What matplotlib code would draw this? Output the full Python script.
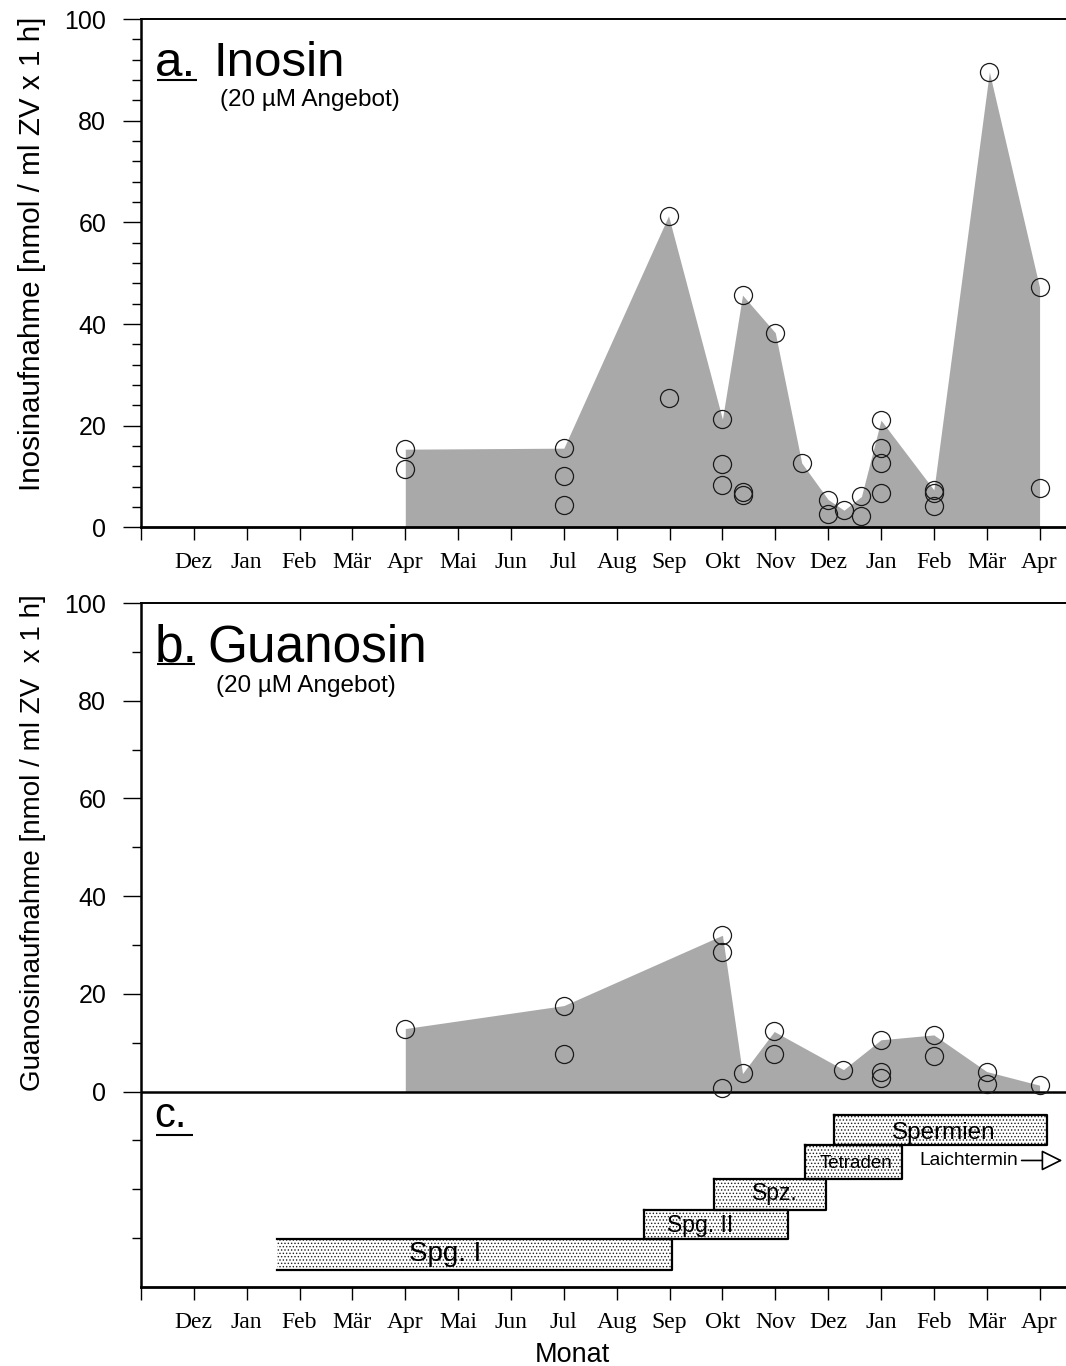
import numpy as np
import matplotlib
matplotlib.use('Agg')
import matplotlib.pyplot as plt
import matplotlib.ticker as ticker

plt.rcParams['font.family'] = ['Liberation Sans', 'DejaVu Sans']
plt.rcParams['hatch.linewidth'] = 0.6

# month axis: 0 = Nov, 1 = Dez ... 17 = Apr of the following year
month_labels = ['Dez', 'Jan', 'Feb', 'Mär', 'Apr', 'Mai', 'Jun', 'Jul', 'Aug',
                'Sep', 'Okt', 'Nov', 'Dez', 'Jan', 'Feb', 'Mär', 'Apr']

# Inosin uptake, single measurements
ino_month = [5, 5, 8, 8, 8, 9.98, 9.98, 11, 11, 11, 11.38, 11.38, 11.38, 12.0, 12.5,
             13.0, 13.0, 13.3, 13.63, 13.63, 14, 14, 14, 14, 15, 15, 15, 16.05, 17, 17]
ino_val = [15.4, 11.5, 15.6, 10.1, 4.4, 61.3, 25.4, 21.3, 12.4, 8.4, 45.7, 7.0, 6.4, 38.3, 12.7,
           5.5, 2.6, 3.4, 6.1, 2.3, 21.1, 15.7, 12.6, 6.7, 7.4, 6.7, 4.2, 89.6, 47.2, 7.7]

# Guanosin uptake, single measurements
gua_month = [5, 8, 8, 11, 11, 11, 11.38, 11.98, 11.98, 13.29, 14, 14, 14, 15, 15, 16, 16, 17]
gua_val = [12.9, 17.6, 7.6, 32.0, 28.6, 0.8, 3.7, 12.3, 7.6, 4.5, 10.6, 4.0, 2.7, 11.6, 7.2,
           4.1, 1.5, 1.3]

# stages of spermatogenesis (panel c)
stage_names = ['Spermien', 'Tetraden', 'Spz.', 'Spg. II', 'Spg. I']
stage_start = [13.12, 12.56, 10.85, 9.52, 2.58]
stage_end = [17.14, 14.40, 12.96, 12.25, 10.05]
stage_top = [-4.7, -11.0, -17.95, -24.3, -30.1]
stage_bottom = [-11.0, -17.95, -24.3, -30.1, -36.5]


def upper_envelope(months, vals):
    m = np.array(months)
    v = np.array(vals)
    xs = np.unique(m)
    ys = np.array([v[m == x].max() for x in xs])
    return xs, ys


def style_axes(ax):
    ax.set_xlim(0, 17.5)
    ax.xaxis.set_major_locator(ticker.FixedLocator(range(18)))
    ax.set_xticklabels([''] + month_labels, family='Liberation Serif', fontsize=17)
    ax.tick_params(axis='x', direction='out', length=9, width=1.0, pad=9)
    ax.tick_params(axis='y', which='major', length=13, width=1.0, labelsize=18, pad=12)
    ax.tick_params(axis='y', which='minor', length=6.5, width=1.0)
    ax.spines['right'].set_visible(False)
    ax.spines['left'].set_linewidth(1.8)
    ax.spines['bottom'].set_linewidth(2.0)
    ax.spines['top'].set_linewidth(1.4)


fig = plt.figure(figsize=(10.66, 13.66), dpi=100)
ax_a = fig.add_axes([0.13227, 0.61384, 0.86773, 0.37225])
ax_b = fig.add_axes([0.13227, 0.05783, 0.86773, 0.50073])

fill_col = '#a9a9a9'
circ = dict(marker='o', ms=13, mfc='none', mec='#1a1a1a', mew=0.9, ls='none', clip_on=False, zorder=4)

# a. Inosin
xs, ys = upper_envelope(ino_month, ino_val)
ax_a.fill_between(xs, ys, 0, color=fill_col, lw=0, zorder=1)
ax_a.plot(ino_month, ino_val, **circ)
ax_a.set_ylim(0, 100)
ax_a.yaxis.set_major_locator(ticker.MultipleLocator(20))
ax_a.yaxis.set_minor_locator(ticker.MultipleLocator(4))
style_axes(ax_a)
ax_a.set_ylabel('Inosinaufnahme [nmol / ml ZV x 1 h]', fontsize=21.3)
ax_a.yaxis.set_label_coords(-0.103, 0.538)

ax_a.text(0.265, 88.8, 'a.', fontsize=35.5, va='baseline')
ax_a.plot([0.30, 1.06], [88.1, 88.1], color='black', lw=1.5, solid_capstyle='butt')
ax_a.text(1.38, 88.8, 'Inosin', fontsize=35.5, va='baseline')
ax_a.text(1.50, 82.8, '(20 µM Angebot)', fontsize=17.5, va='baseline')

# b. Guanosin with c. stages below the zero line
xs, ys = upper_envelope(gua_month, gua_val)
ax_b.fill_between(xs, ys, 0, color=fill_col, lw=0, zorder=1)
ax_b.axhline(0, color='black', lw=1.8, zorder=3)
ax_b.plot(gua_month, gua_val, **circ)
ax_b.set_ylim(-40, 100)
ax_b.yaxis.set_major_locator(ticker.FixedLocator([0, 20, 40, 60, 80, 100]))
ax_b.yaxis.set_minor_locator(ticker.FixedLocator([-30, -20, -10, 10, 30, 50, 70, 90]))
style_axes(ax_b)
ax_b.set_ylabel('Guanosinaufnahme [nmol / ml ZV  x 1 h]', fontsize=20)
ax_b.yaxis.set_label_coords(-0.103, 0.65)
ax_b.set_xlabel('Monat', fontsize=19.5, va='baseline')
ax_b.xaxis.set_label_coords(0.466, -0.109)

ax_b.text(0.265, 88.0, 'b.', fontsize=37, va='baseline')
ax_b.plot([0.30, 1.02], [87.5, 87.5], color='black', lw=1.5, solid_capstyle='butt')
ax_b.text(1.25, 88.0, 'Guanosin', fontsize=37, va='baseline')
ax_b.text(1.41, 81.8, '(20 µM Angebot)', fontsize=17.5, va='baseline')

# stage bars
widths = np.array(stage_end) - np.array(stage_start)
heights = np.array(stage_top) - np.array(stage_bottom)
ax_b.bar(stage_start, heights, width=widths, bottom=stage_bottom, align='edge',
         facecolor='white', edgecolor='#202020', hatch='.....', lw=0, zorder=2)
for name, x0, x1, y0, y1 in zip(stage_names, stage_start, stage_end, stage_bottom, stage_top):
    if name == 'Spg. I':
        # open to the left: started before the sampling period
        ax_b.plot([x0, x1, x1, x0], [y1, y1, y0, y0], color='black', lw=1.6, zorder=3)
    else:
        ax_b.plot([x0, x1, x1, x0, x0], [y1, y1, y0, y0, y1], color='black', lw=1.6, zorder=3)

stage_label_x = [15.19, 13.52, 12.0, 10.58, 5.75]
stage_label_y = [-9.8, -15.6, -22.2, -28.7, -34.7]
stage_label_size = [17.5, 13.5, 16.5, 16.5, 20]
for name, lx, ly, fs in zip(stage_names, stage_label_x, stage_label_y, stage_label_size):
    ax_b.text(lx, ly, name, fontsize=fs, ha='center', va='baseline', zorder=5)

ax_b.text(14.72, -15.1, 'Laichtermin', fontsize=13.8, va='baseline')
ax_b.annotate('', xy=(17.43, -14.1), xytext=(16.66, -14.1),
              arrowprops=dict(arrowstyle='-|>,head_length=1.3,head_width=0.65',
                              fc='white', ec='black', lw=1.2, shrinkA=0, shrinkB=0))

ax_b.text(0.25, -7.2, 'c.', fontsize=30, va='baseline')
ax_b.plot([0.28, 0.98], [-8.8, -8.8], color='black', lw=1.5, solid_capstyle='butt')

fig.savefig('out.png', dpi=100)
